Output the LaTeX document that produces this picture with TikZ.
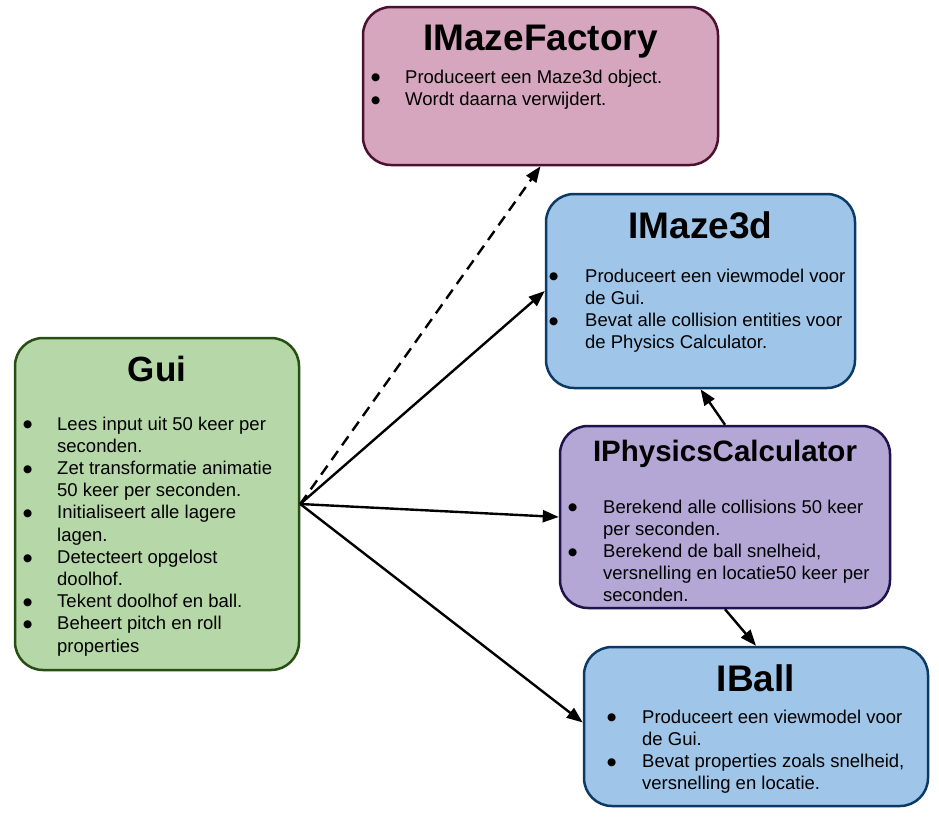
\documentclass[tikz,border=0pt]{standalone}
\usepackage{fontspec}
\setmainfont{Liberation Sans}
\newfontfamily\dotfont{DejaVu Sans}
\usepackage{xcolor}
\usepackage{tikz}
\usetikzlibrary{arrows.meta, positioning}

\definecolor{pinkfill}{HTML}{D5A6BD}
\definecolor{pinkline}{HTML}{4C1130}
\definecolor{bluefill}{HTML}{9FC5E8}
\definecolor{blueline}{HTML}{0B3A66}
\definecolor{greenfill}{HTML}{B6D7A8}
\definecolor{greenline}{HTML}{274E13}
\definecolor{purplefill}{HTML}{B4A7D6}
\definecolor{purpleline}{HTML}{20124D}

\newcommand{\bul}{\raisebox{2.2pt}{\dotfont\fontsize{10.5}{11}\selectfont ●}}

\begin{document}
\begin{tikzpicture}[
        x=1pt, y=-1pt,
        box/.style={rectangle, rounded corners=28pt, line width=2.5pt, inner sep=0pt},
        title/.style={font=\fontsize{37}{40}\selectfont\bfseries, inner sep=0pt, anchor=base},
        body/.style={font=\fontsize{18.5}{22.2}\selectfont, inner sep=0pt, anchor=base west, align=left},
        relation/.style={-{Triangle[length=16pt, width=12pt]}, line width=2.4pt}
    ]
        \useasboundingbox (0,0) rectangle (939,820);

        % IMazeFactory (top)
        \node[box, fill=pinkfill, draw=pinkline, minimum width=355pt, minimum height=158pt] (factory) at (540.5,86) {};
        \node[title] (factorytitle) at ([yshift=-45pt]factory.north) {IMazeFactory};
        \node[body] (factorytext) at (371,83) {\begin{tabular}[t]{@{}p{34pt}@{}l@{}}
            \bul & Produceert een Maze3d object.\\
            \bul & Wordt daarna verwijdert.
        \end{tabular}};

        % IMaze3d
        \node[box, fill=bluefill, draw=blueline, minimum width=309pt, minimum height=194pt] (maze) at (700.5,291) {};
        \node[title] (mazetitle) at ([yshift=-46pt]maze.north) {IMaze3d};
        \node[body] (mazetext) at (549,282) {\begin{tabular}[t]{@{}p{36pt}@{}l@{}}
            \bul & Produceert een viewmodel voor\\
                 & de Gui.\\
            \bul & Bevat alle collision entities voor\\
                 & de Physics Calculator.
        \end{tabular}};

        % Gui (left)
        \node[box, fill=greenfill, draw=greenline, minimum width=284pt, minimum height=332pt] (gui) at (157,504) {};
        \node[title, font=\fontsize{35}{40}\selectfont\bfseries] (guititle) at ([yshift=-45pt]gui.north) {Gui};
        \node[body] (guitext) at (23,430) {\begin{tabular}[t]{@{}p{34pt}@{}l@{}}
            \bul & Lees input uit 50 keer per\\
                 & seconden.\\
            \bul & Zet transformatie animatie\\
                 & 50 keer per seconden.\\
            \bul & Initialiseert alle lagere\\
                 & lagen.\\
            \bul & Detecteert opgelost\\
                 & doolhof.\\
            \bul & Tekent doolhof en ball.\\
            \bul & Beheert pitch en roll\\
                 & properties
        \end{tabular}};

        % IPhysicsCalculator
        \node[box, fill=purplefill, draw=purpleline, minimum width=330pt, minimum height=182pt] (physics) at (725,517) {};
        \node[title, font=\fontsize{29.5}{34}\selectfont\bfseries] (physicstitle) at ([yshift=-37pt]physics.north) {IPhysicsCalculator};
        \node[body] (physicstext) at (568,513) {\begin{tabular}[t]{@{}p{35pt}@{}l@{}}
            \bul & Berekend alle collisions 50 keer\\
                 & per seconden.\\
            \bul & Berekend de ball snelheid,\\
                 & versnelling en locatie50 keer per\\
                 & seconden.
        \end{tabular}};

        % IBall
        \node[box, fill=bluefill, draw=blueline, minimum width=344pt, minimum height=159pt] (ball) at (756,726.5) {};
        \node[title] (balltitle) at ([yshift=-46pt]ball.north) {IBall};
        \node[body] (balltext) at (607,723) {\begin{tabular}[t]{@{}p{35pt}@{}l@{}}
            \bul & Produceert een viewmodel voor\\
                 & de Gui.\\
            \bul & Bevat properties zoals snelheid,\\
                 & versnelling en locatie.
        \end{tabular}};

        % Relationships
        \draw[relation, dash pattern=on 11pt off 7pt] (gui.east) -- (factory.south);
        \draw[relation] (gui.east) -- (maze.west);
        \draw[relation] (gui.east) -- (physics.west);
        \draw[relation] (gui.east) -- ([yshift=4pt]ball.west);
        \draw[relation] (physics.north) -- (maze.south);
        \draw[relation] (physics.south) -- (ball.north);
    \end{tikzpicture}
\end{document}
